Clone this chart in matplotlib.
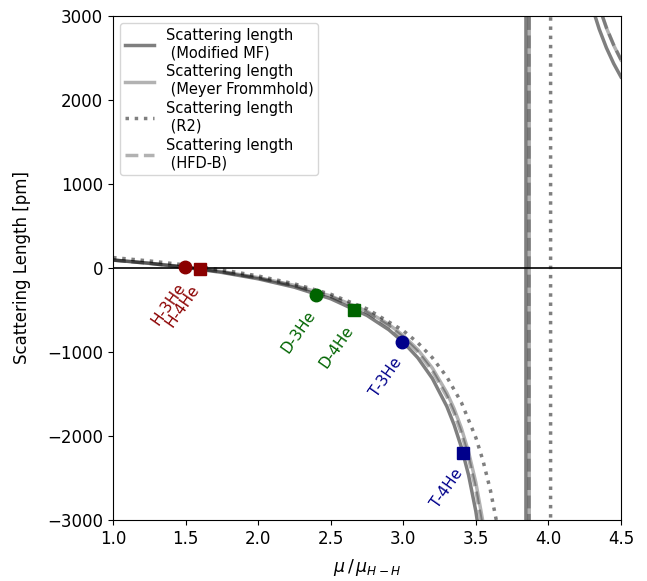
import numpy as np
import matplotlib
matplotlib.use("Agg")
from matplotlib import pyplot as plt

# reduced mass ratio mu/mu_HH (grid for the curves)
x_mf = [1.0, 1.25, 1.5, 1.75, 2.0, 2.25, 2.5, 2.75, 2.9, 3.0, 3.1, 3.2, 3.3, 3.35, 3.4, 3.45, 3.5, 3.55, 3.6,
        3.84, 3.85, 4.0, 4.1, 4.2, 4.25, 4.3, 4.35, 4.4, 4.45, 4.5]
a_mf = [95, 55, 7, -53, -129, -229, -366, -565, -735, -883, -1069, -1314, -1648, -1866, -2132, -2467, -2898, -3475, -4288,
        -200000, 200000, 8459, 5281, 3894, 3457, 3116, 2843, 2619, 2432, 2274]

x_mey = [1.0, 1.25, 1.5, 1.75, 2.0, 2.25, 2.5, 2.75, 2.9, 3.0, 3.1, 3.2, 3.3, 3.35, 3.4, 3.45, 3.5, 3.55, 3.6,
         3.863, 3.873, 4.0, 4.1, 4.2, 4.3, 4.35, 4.4, 4.45, 4.5]
a_mey = [95, 58, 12, -43, -114, -207, -333, -516, -671, -804, -972, -1190, -1485, -1675, -1906, -2192, -2556, -3034, -3690,
         -200000, 200000, 10136, 5963, 4303, 3412, 3105, 2856, 2650, 2476]

x_r2 = [1.0, 1.25, 1.5, 1.75, 2.0, 2.25, 2.5, 2.75, 3.0, 3.1, 3.2, 3.3, 3.4, 3.5, 3.55, 3.6, 3.65, 3.7,
        4.01, 4.02, 4.1, 4.2, 4.35, 4.5]
a_r2 = [124, 84, 36, -22, -95, -189, -313, -487, -746, -890, -1068, -1297, -1600, -2020, -2299, -2644, -3083, -3663,
        -200000, 200000, 20000, 12000, 9000, 7500]

x_hfd = [1.0, 1.25, 1.5, 1.75, 2.0, 2.25, 2.5, 2.75, 2.9, 3.0, 3.1, 3.2, 3.3, 3.35, 3.4, 3.45, 3.5, 3.55, 3.6,
         3.861, 3.871, 4.0, 4.1, 4.2, 4.3, 4.35, 4.4, 4.45, 4.5]
a_hfd = [93, 55, 9, -47, -120, -214, -343, -531, -690, -827, -1000, -1225, -1530, -1727, -1967, -2265, -2645, -3148, -3842,
         -200000, 200000, 10000, 5900, 4280, 3420, 3110, 2860, 2655, 2480]

# isotopologue points
iso_names = ["H-3He", "H-4He", "D-3He", "D-4He", "T-3He", "T-4He"]
iso_x = [1.499, 1.598, 2.396, 2.658, 2.992, 3.413]
iso_a = [7, -15, -321, -505, -885, -2206]
iso_col = ["darkred", "darkred", "darkgreen", "darkgreen", "darkblue", "darkblue"]
iso_mark = ["o", "s", "o", "s", "o", "s"]

fig = plt.figure(figsize=(6.47, 5.81), dpi=100)
ax = fig.add_axes([0.1747, 0.105, 0.7851, 0.8675])

ax.plot(x_mf, a_mf, color="k", alpha=0.5, lw=2.5, label="Scattering length\n (Modified MF)")
ax.plot(x_mey, a_mey, color="k", alpha=0.3, lw=2.5, label="Scattering length\n (Meyer Frommhold)")
ax.plot(x_r2, a_r2, color="k", alpha=0.5, lw=2.5, ls=":", label="Scattering length\n (R2)")
ax.plot(x_hfd, a_hfd, color="k", alpha=0.3, lw=2.5, ls="--", label="Scattering length\n (HFD-B)")

ax.axhline(0, color="black", lw=1.2)

for n, x, a, c, m in zip(iso_names, iso_x, iso_a, iso_col, iso_mark):
    ax.plot(x, a, marker=m, color=c, ms=9, ls="none", zorder=4)
    ax.annotate(n, (x, a), xytext=(2, -9), textcoords="offset points",
                rotation=55, ha="right", va="top", color=c, fontsize=11)

ax.set_xlim(1.0, 4.5)
ax.set_ylim(-3000, 3000)
ax.tick_params(labelsize=12)
ax.set_xlabel(r"$\mu\,/\,\mu_{H-H}$", fontsize=12.5, labelpad=7)
ax.set_ylabel("Scattering Length [pm]", fontsize=12, labelpad=12)
ax.legend(loc="upper left", fontsize=10.5, labelspacing=0.3, borderpad=0.3)

plt.savefig("out.png", dpi=100)
